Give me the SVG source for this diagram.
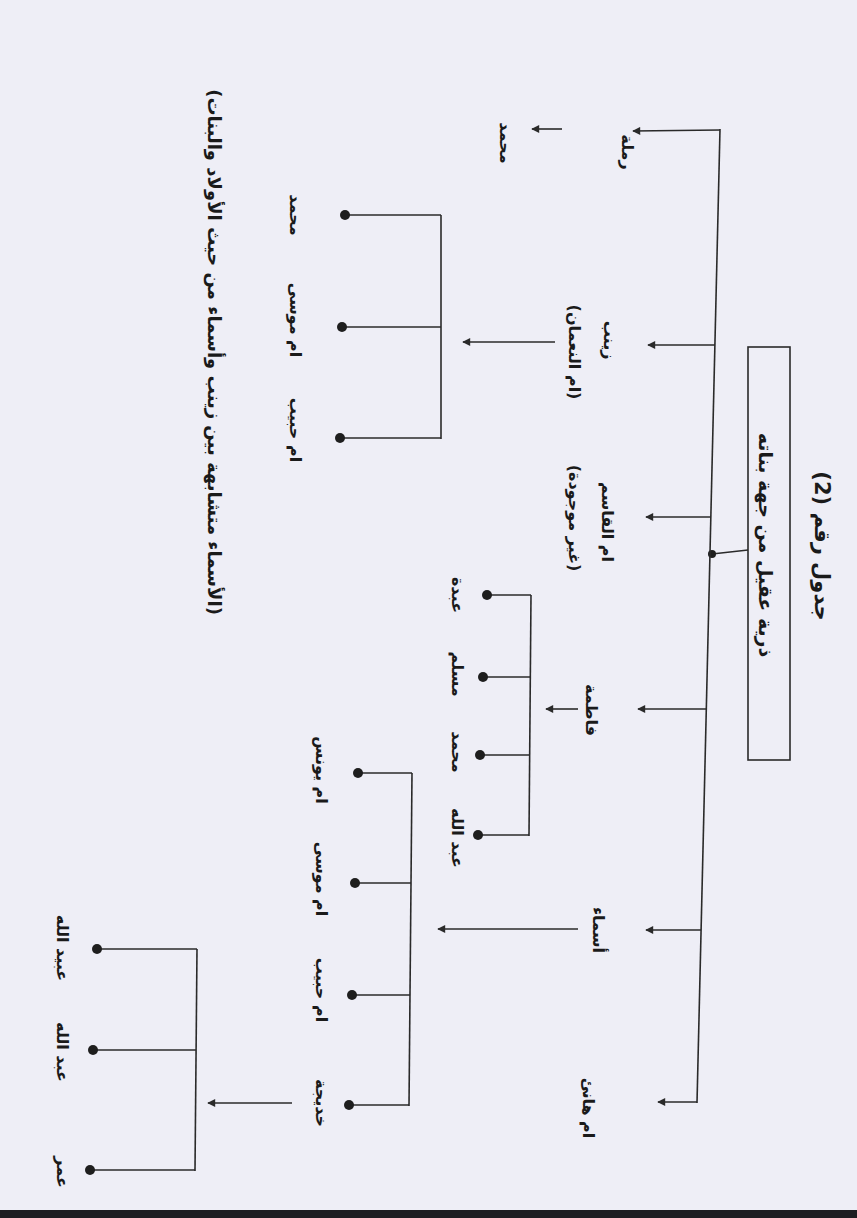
<svg xmlns="http://www.w3.org/2000/svg" width="857" height="1218" viewBox="0 0 857 1218">
<defs>
<marker id="ah" viewBox="0 0 10 10" refX="9" refY="5" markerWidth="9" markerHeight="8" markerUnits="userSpaceOnUse" orient="auto">
<path d="M0,0 L10,5 L0,10 z" fill="#2a2a2a"/>
</marker>
<style>
.ln{stroke:#2a2a2a;stroke-width:1.6;fill:none}
.ar{stroke:#2a2a2a;stroke-width:1.6;fill:none;marker-end:url(#ah)}
.dot{fill:#1e1e1e}
.t{font-family:"DejaVu Sans",sans-serif;font-size:16px;font-weight:bold;fill:#1a1a1a;text-anchor:middle}
.tt{font-family:"DejaVu Sans",sans-serif;font-size:21px;font-weight:bold;fill:#1a1a1a;text-anchor:middle}
.box{fill:none;stroke:#2a2a2a;stroke-width:1.6}
</style>
</defs>
<rect width="857" height="1218" fill="#eeeef6"/>
<rect x="0" y="1210" width="857" height="8" fill="#1e1e22"/>

<g id="title"><text class="tt" transform="translate(815,546) rotate(90)">جدول رقم (2)</text></g>

<g id="root">
<rect class="box" x="748" y="347" width="42" height="413"/>
<text class="tt" style="font-size:19px" transform="translate(759,545) rotate(90)">ذرية عقيل من جهة بناته</text>
</g>

<g id="connectors">
<line class="ln" x1="748" y1="550" x2="712" y2="554"/>
<circle class="dot" cx="712" cy="554" r="4"/>
<line class="ln" x1="720" y1="129" x2="697" y2="1103"/>
<line class="ar" x1="720" y1="130" x2="633" y2="131"/>
<line class="ar" x1="715" y1="345" x2="648" y2="345"/>
<line class="ar" x1="711" y1="517" x2="646" y2="517"/>
<line class="ar" x1="706" y1="709" x2="638" y2="709"/>
<line class="ar" x1="701" y1="930" x2="646" y2="930"/>
<line class="ar" x1="697" y1="1102" x2="658" y2="1102"/>

<line class="ar" x1="562" y1="129" x2="532" y2="129"/>

<line class="ar" x1="555" y1="342" x2="463" y2="342"/>
<line class="ln" x1="441" y1="215" x2="441" y2="439"/>
<line class="ln" x1="441" y1="215" x2="345" y2="215"/>
<line class="ln" x1="441" y1="327" x2="343" y2="327"/>
<line class="ln" x1="441" y1="438" x2="341" y2="438"/>
<circle class="dot" cx="345" cy="215" r="5"/>
<circle class="dot" cx="342" cy="327" r="5"/>
<circle class="dot" cx="340" cy="438" r="5"/>

<line class="ar" x1="578" y1="709" x2="546" y2="709"/>
<line class="ln" x1="531" y1="595" x2="529" y2="836"/>
<line class="ln" x1="531" y1="595" x2="487" y2="595"/>
<line class="ln" x1="530" y1="677" x2="483" y2="677"/>
<line class="ln" x1="530" y1="755" x2="480" y2="755"/>
<line class="ln" x1="529" y1="835" x2="478" y2="835"/>
<circle class="dot" cx="487" cy="595" r="5"/>
<circle class="dot" cx="483" cy="677" r="5"/>
<circle class="dot" cx="480" cy="755" r="5"/>
<circle class="dot" cx="478" cy="835" r="5"/>

<line class="ar" x1="578" y1="929" x2="438" y2="929"/>
<line class="ln" x1="412" y1="773" x2="409" y2="1106"/>
<line class="ln" x1="412" y1="773" x2="358" y2="773"/>
<line class="ln" x1="411" y1="883" x2="355" y2="883"/>
<line class="ln" x1="410" y1="995" x2="352" y2="995"/>
<line class="ln" x1="409" y1="1105" x2="349" y2="1105"/>
<circle class="dot" cx="358" cy="773" r="5"/>
<circle class="dot" cx="355" cy="883" r="5"/>
<circle class="dot" cx="352" cy="995" r="5"/>
<circle class="dot" cx="349" cy="1105" r="5"/>

<line class="ar" x1="292" y1="1103" x2="208" y2="1103"/>
<line class="ln" x1="197" y1="949" x2="195" y2="1171"/>
<line class="ln" x1="197" y1="949" x2="97" y2="949"/>
<line class="ln" x1="196" y1="1050" x2="93" y2="1050"/>
<line class="ln" x1="195" y1="1170" x2="90" y2="1170"/>
<circle class="dot" cx="97" cy="949" r="5"/>
<circle class="dot" cx="93" cy="1050" r="5"/>
<circle class="dot" cx="90" cy="1170" r="5"/>
</g>

<g id="n-ramla"><text class="t" transform="translate(622,152) rotate(90)">رملة</text></g>
<g id="n-ramla-mohammed"><text class="t" transform="translate(500,143) rotate(90)">محمد</text></g>
<g id="n-zainab">
<text class="t" transform="translate(604,340) rotate(90)">زينب</text>
<text class="t" transform="translate(569,352) rotate(90)">(ام النعمان)</text>
</g>
<g id="n-umm-alqasim">
<text class="t" transform="translate(602,522) rotate(90)">ام القاسم</text>
<text class="t" transform="translate(569,518) rotate(90)">(غير موجودة)</text>
</g>
<g id="n-fatima"><text class="t" transform="translate(586,710) rotate(90)">فاطمة</text></g>
<g id="n-asma"><text class="t" transform="translate(593,930) rotate(90)">أسماء</text></g>
<g id="n-umm-hani"><text class="t" transform="translate(583,1108) rotate(90)">ام هانئ</text></g>

<g id="n-z-mohammed"><text class="t" transform="translate(290,215) rotate(90)">محمد</text></g>
<g id="n-z-umm-musa"><text class="t" transform="translate(290,320) rotate(90)">ام موسى</text></g>
<g id="n-z-umm-habib"><text class="t" transform="translate(290,430) rotate(90)">ام حبيب</text></g>

<g id="n-f-abda"><text class="t" transform="translate(452,595) rotate(90)">عبدة</text></g>
<g id="n-f-muslim"><text class="t" transform="translate(452,674) rotate(90)">مسلم</text></g>
<g id="n-f-mohammed"><text class="t" transform="translate(452,752) rotate(90)">محمد</text></g>
<g id="n-f-abdullah"><text class="t" transform="translate(452,838) rotate(90)">عبد الله</text></g>

<g id="n-a-umm-yunus"><text class="t" transform="translate(316,770) rotate(90)">ام يونس</text></g>
<g id="n-a-umm-musa"><text class="t" transform="translate(316,879) rotate(90)">ام موسى</text></g>
<g id="n-a-umm-habib"><text class="t" transform="translate(316,990) rotate(90)">ام حبيب</text></g>
<g id="n-a-khadija"><text class="t" transform="translate(316,1103) rotate(90)">خديجة</text></g>

<g id="n-k-ubaydullah"><text class="t" transform="translate(57,948) rotate(90)">عبيد الله</text></g>
<g id="n-k-abdullah"><text class="t" transform="translate(57,1052) rotate(90)">عبد الله</text></g>
<g id="n-k-umar"><text class="t" transform="translate(57,1172) rotate(90)">عمر</text></g>

<g id="note"><text class="tt" style="font-size:18px" transform="translate(208,352) rotate(90)">(الأسماء متشابهة بين زينب وأسماء من حيث الأولاد والبنات)</text></g>
</svg>
